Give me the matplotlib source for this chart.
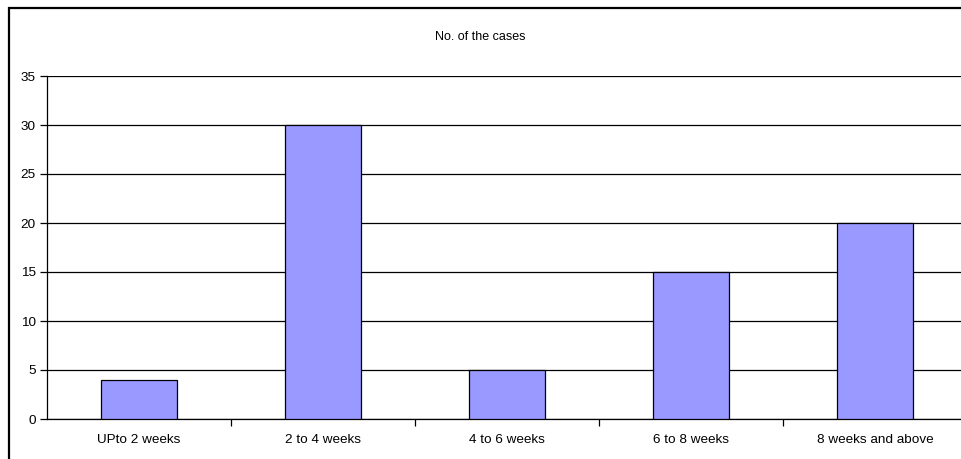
import matplotlib
matplotlib.use("Agg")
import matplotlib.pyplot as plt
from matplotlib.patches import Rectangle

# dados
categorias = ["UPto 2 weeks", "2 to 4 weeks", "4 to 6 weeks", "6 to 8 weeks", "8 weeks and above"]
casos = [4, 30, 5, 15, 20]
yticks = [0, 5, 10, 15, 20, 25, 30, 35]

plt.rcParams["font.family"] = ["Liberation Sans", "DejaVu Sans"]

fig = plt.figure(figsize=(9.61, 4.59), dpi=100)
ax = fig.add_axes([47 / 961, 40 / 459, 920 / 961, 343 / 459])

x = range(len(categorias))
ax.bar(x, casos, width=0.41, color="#9999FF", edgecolor="black", linewidth=0.9, zorder=3)

ax.set_ylim(0, 35)
ax.set_xlim(-0.5, len(categorias) - 0.5)
ax.set_yticks(yticks)
ax.yaxis.grid(True, color="black", linewidth=0.9, zorder=0)

# rótulos centrados, ticks nas divisas das categorias
ax.set_xticks([i + 0.5 for i in range(len(categorias) - 1)])
ax.set_xticklabels([])
ax.set_xticks(list(x), minor=True)
ax.set_xticklabels(categorias, minor=True)
ax.tick_params(axis="x", which="minor", length=0, pad=11, labelsize=9.7)
ax.tick_params(axis="x", which="major", length=5, direction="out", width=0.9)
ax.tick_params(axis="y", length=5, width=0.9, labelsize=9.7, pad=3)

for s in ["top", "right"]:
    ax.spines[s].set_visible(False)
for s in ["left", "bottom"]:
    ax.spines[s].set_linewidth(0.9)

fig.text(0.5, 1 - 37 / 459, "No. of the cases", ha="center", va="center", fontsize=9)

# moldura externa
fig.patches.append(Rectangle((9 / 961, -0.2), 1.2, 1.2 - 8 / 459, transform=fig.transFigure,
                             fill=False, edgecolor="black", linewidth=1.6))

fig.savefig("out.png", dpi=100)
